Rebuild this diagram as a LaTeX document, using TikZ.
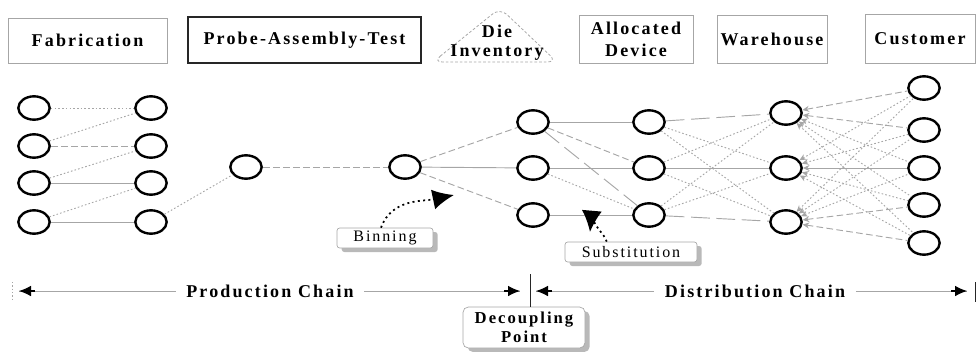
\documentclass[tikz,border=0pt]{standalone}
\usepackage{fontspec}
\setmainfont{Liberation Serif}[LetterSpace=12]
\usetikzlibrary{shapes.geometric,arrows.meta,shadows}

\begin{document}
\begin{tikzpicture}[x=0.75pt,y=-0.75pt,
  dev/.style={ellipse,draw=black,line width=1.8pt,minimum width=23.5pt,minimum height=17.5pt,inner sep=0pt},
  stage/.style={draw=gray!70,line width=0.5pt,font=\fontsize{13.5}{16.5}\selectfont\bfseries,align=center,inner sep=0pt},
  callout/.style={draw=gray!70,line width=0.5pt,fill=white,rounded corners=2pt,align=center,inner sep=0pt,
    drop shadow={shadow xshift=3.5pt,shadow yshift=-3pt,fill=gray!55,opacity=1}},
  ln/.style={draw=gray!70,line width=0.7pt},
  solidln/.style={ln},
  dashln/.style={ln,dash pattern=on 5pt off 2.5pt},
  longdash/.style={ln,dash pattern=on 14pt off 5pt},
  dotln/.style={ln,dash pattern=on 1.2pt off 1.6pt},
  whin/.style={{Stealth[length=5pt,width=4.5pt]}-},
  bigtip/.style={-{Latex[length=16pt,width=15pt]}},
  chain/.style={draw=gray!70,line width=0.7pt},
  chaintip/.style={-{Latex[length=9pt,width=8pt]},draw=black,line width=0.8pt}
]
\useasboundingbox (0,0) rectangle (976,351);

% ---------- stage headings ----------
\node[stage,minimum width=119.25pt,minimum height=33.75pt] (fab) at (87.5,40.5) {Fabrication};
\node[stage,draw=black!85,line width=0.8pt,minimum width=174.75pt,minimum height=34.5pt] (pat) at (304.5,40) {Probe-Assembly-Test};
\draw[gray!70,line width=0.6pt,dash pattern=on 2pt off 1.5pt,rounded corners=7pt]
  (433,62) -- (500,8) -- (557,62) -- cycle;
\node[font=\fontsize{13.5}{14.5}\selectfont\bfseries,align=center] (dieinv) at (497,43) {Die\\Inventory};
\node[stage,minimum width=85.5pt,minimum height=36pt] (alloc) at (636,39) {Allocated\\Device};
\node[stage,minimum width=82.5pt,minimum height=36pt] (ware) at (772,39) {Warehouse};
\node[stage,minimum width=82.5pt,minimum height=36.75pt] (cust) at (920,38.5) {Customer};

% ---------- fabrication ----------
\foreach \r/\y in {1/108,2/146,3/183,4/222}{
  \node[dev] (fa\r) at (34,\y) {};
  \node[dev] (fb\r) at (151,\y) {};
}
\node[dev] (pr) at (246,167) {};
\node[dev] (di) at (405,167) {};

% ---------- allocated devices, warehouses, customers ----------
\foreach \r/\y in {1/122,2/168,3/215}{
  \node[dev] (aa\r) at (533,\y) {};
  \node[dev] (ab\r) at (649,\y) {};
}
\node[dev] (w1) at (786,113) {};
\node[dev] (w2) at (786,168) {};
\node[dev] (w3) at (786,222) {};
\foreach \r/\y in {1/88,2/130,3/168,4/205,5/243}{
  \node[dev] (c\r) at (924,\y) {};
}

% ---------- production links ----------
\draw[dotln]   (fa1) -- (fb1);
\draw[dashln]  (fa2) -- (fb2);
\draw[solidln] (fa3) -- (fb3);
\draw[solidln] (fa4) -- (fb4);
\draw[dotln] (fa2) -- (fb1);
\draw[dotln] (fa3) -- (fb2);
\draw[dotln] (fa4) -- (fb3);
\draw[dotln] (fb4) -- (pr);
\draw[dashln] (pr) -- (di);
\draw[dashln]  (di) -- (aa1);
\draw[solidln] (di) -- (aa2);
\draw[dashln]  (di) -- (aa3);

% ---------- allocation links ----------
\foreach \r in {1,2,3}{ \draw[solidln] (aa\r) -- (ab\r); }
\draw[dashln]   (aa1) -- (ab2);
\draw[longdash] (aa1) -- (ab3);
\draw[dotln]    (aa2) -- (ab3);

% ---------- allocated device to warehouse ----------
\draw[longdash] (ab1) -- (w1);
\draw[solidln]  (ab2) -- (w2);
\draw[longdash] (ab3) -- (w3);
\draw[dotln] (ab1) -- (w2);
\draw[dotln] (ab1) -- (w3);
\draw[dotln] (ab2) -- (w1);
\draw[dotln] (ab2) -- (w3);
\draw[dotln] (ab3) -- (w1);
\draw[dotln] (ab3) -- (w2);

% ---------- warehouse to customer ----------
\draw[dashln,whin] (w1) -- (c1);
\draw[dashln,whin] (w1) -- (c2);
\draw[dotln,whin]  (w1) -- (c3);
\draw[dotln,whin]  (w1) -- (c4);
\draw[dotln,whin]  (w1) -- (c5);
\draw[dotln,whin]  (w2) -- (c1);
\draw[dotln,whin]  (w2) -- (c2);
\draw[solidln,whin] (w2) -- (c3);
\draw[dotln,whin]  (w2) -- (c4);
\draw[dotln,whin]  (w2) -- (c5);
\draw[dotln,whin]  (w3) -- (c1);
\draw[dotln,whin]  (w3) -- (c2);
\draw[dotln,whin]  (w3) -- (c3);
\draw[dashln,whin] (w3) -- (c4);
\draw[dashln,whin] (w3) -- (c5);

% ---------- callouts ----------
\node[callout,minimum width=72pt,minimum height=15pt,font=\fontsize{12}{13}\selectfont] (bin) at (385,238) {Binning};
\coordinate (bintip) at (454,195);
\draw[black,line width=1.3pt,dash pattern=on 1.5pt off 2.5pt,bigtip] (bin.north) ++(-4,0) to[out=70,in=192] (bintip);

\node[callout,minimum width=99pt,minimum height=15pt,font=\fontsize{12}{13}\selectfont] (sub) at (631,252) {Substitution};
\coordinate (subtip) at (590,232);
\draw[black,line width=1.3pt,dash pattern=on 1.5pt off 2.5pt,bigtip] (sub.north west) ++(42,0) to[out=100,in=85] (subtip);

% ---------- production / distribution chain ----------
\node[font=\fontsize{13.5}{15}\selectfont\bfseries] (pc) at (270,291) {Production Chain};
\node[font=\fontsize{13.5}{15}\selectfont\bfseries] (dc) at (755,291) {Distribution Chain};
\coordinate (pcl) at (19,291);
\coordinate (pcr) at (520,291);
\coordinate (dcl) at (536,291);
\coordinate (dcr) at (967,291);
\draw[chain] (pc.west) ++(-6,0) -- (pcl);
\draw[chaintip] (pcl) ++(16,0) -- (pcl);
\draw[chain] (pc.east) ++(6,0) -- (pcr);
\draw[chaintip] (pcr) ++(-16,0) -- (pcr);
\draw[chain] (dc.west) ++(-6,0) -- (dcl);
\draw[chaintip] (dcl) ++(16,0) -- (dcl);
\draw[chain] (dc.east) ++(6,0) -- (dcr);
\draw[chaintip] (dcr) ++(-16,0) -- (dcr);

\node[callout,rounded corners=4pt,minimum width=91.5pt,minimum height=30.75pt,font=\fontsize{12.5}{14.5}\selectfont\bfseries] (dp) at (524,327.5) {Decoupling\\Point};
\coordinate (dptop) at (530,274);
\draw[black!85,line width=0.7pt] (dptop) -- (dptop |- dp.north);
\coordinate (rt) at (975,282);
\draw[black!85,line width=0.7pt] (rt) -- ++(0,20);
\coordinate (lt) at (12,282);
\draw[gray!70,line width=0.6pt,dash pattern=on 1pt off 1.5pt] (lt) -- ++(0,20);
\end{tikzpicture}
\end{document}
